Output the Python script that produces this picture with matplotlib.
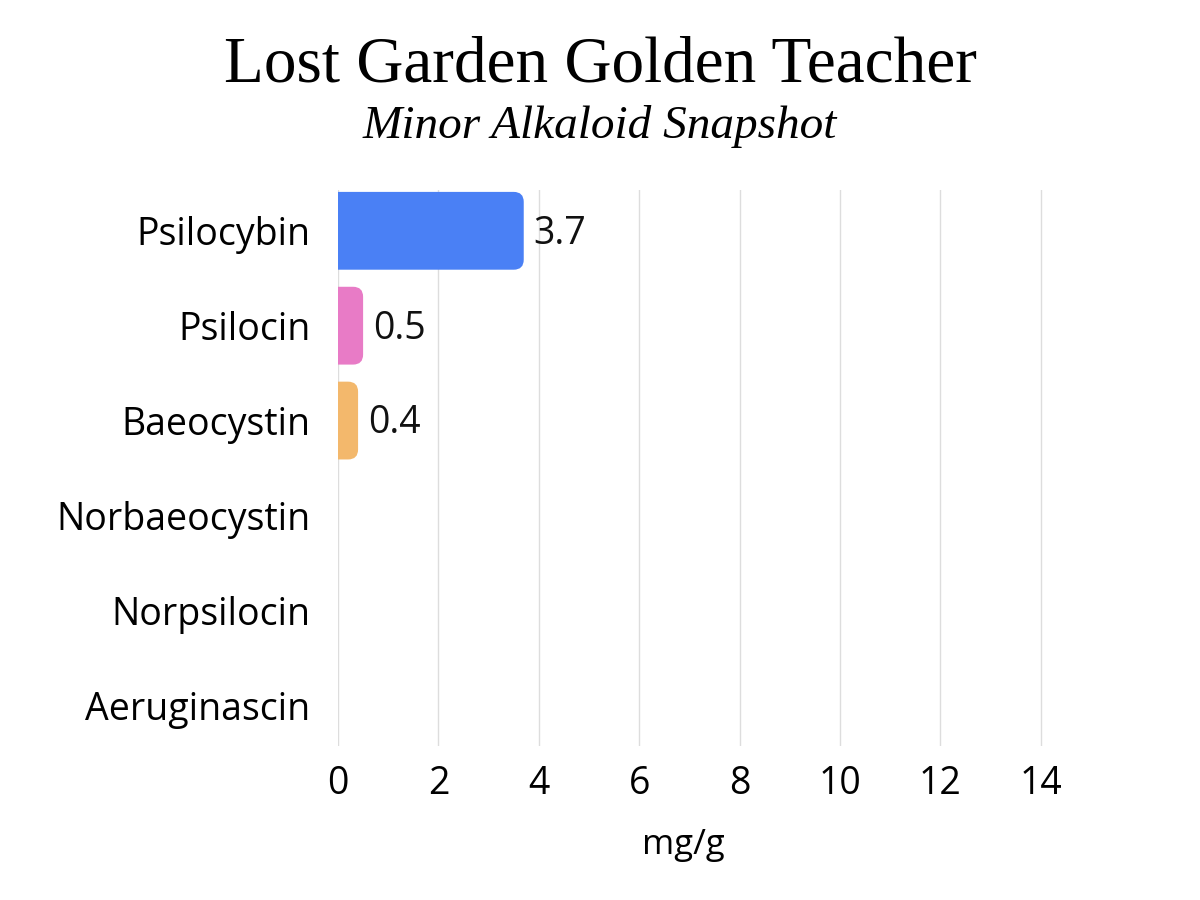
import matplotlib
matplotlib.use("Agg")
import matplotlib.pyplot as plt
from matplotlib.patches import FancyBboxPatch

# data
compounds = ["Psilocybin", "Psilocin", "Baeocystin", "Norbaeocystin", "Norpsilocin", "Aeruginascin"]
values = [3.7, 0.5, 0.4, 0.0, 0.0, 0.0]
bar_colors = ["#4a80f5", "#e87bc6", "#f3b86c", "#4a80f5", "#e87bc6", "#f3b86c"]
xticks = [0, 2, 4, 6, 8, 10, 12, 14]

plt.rcParams['font.family'] = ['Open Sans', 'DejaVu Sans']

fig = plt.figure(figsize=(12, 9), dpi=100)
ax = fig.add_axes([338/1200, 1 - 746/900, (1091 - 338)/1200, (746 - 190)/900])

xmax = 15
ax.set_xlim(0, xmax)
ax.set_ylim(5.43, -0.43)

# pixel scale so the corner rounding stays round
px_x = 753 / xmax
px_y = 556 / 5.86
r = 10 / px_x
bar_h = 0.82

for i, (v, c) in enumerate(zip(values, bar_colors)):
    if v <= 0:
        continue
    patch = FancyBboxPatch((-0.5, i - bar_h/2), v + 0.5, bar_h,
                           boxstyle=f"round,pad=0,rounding_size={r}",
                           mutation_aspect=px_x/px_y,
                           facecolor=c, edgecolor="none", zorder=3)
    ax.add_patch(patch)
    ax.text(v + 10/px_x, i + 0.03, f"{v:g}", va="center", ha="left",
            fontsize=27, color="#111111", zorder=4)

ax.set_yticks(range(len(compounds)))
ax.set_yticklabels(compounds, fontsize=27)
ax.set_xticks(xticks)
ax.set_xticklabels([str(t) for t in xticks], fontsize=27)
ax.tick_params(axis="y", length=0, pad=20)
ax.tick_params(axis="x", length=0, pad=14)

for x in xticks:
    ax.axvline(x, color="#dddddd", lw=1, zorder=1)

for s in ax.spines.values():
    s.set_visible(False)

ax.set_xlabel("mg/g", fontsize=25)
ax.xaxis.set_label_coords((683 - 338) / 753, -(845 - 746) / 556)
ax.xaxis.label.set_va("center")

fig.text(0.5, 1 - 66/900, "Lost Garden Golden Teacher", ha="center", va="center",
         fontsize=47, family=["Liberation Serif", "DejaVu Serif"])
fig.text(0.5, 1 - 127/900, "Minor Alkaloid Snapshot", ha="center", va="center",
         fontsize=34, style="italic", family=["Liberation Serif", "DejaVu Serif"])

fig.savefig("out.png", dpi=100, facecolor="white")
